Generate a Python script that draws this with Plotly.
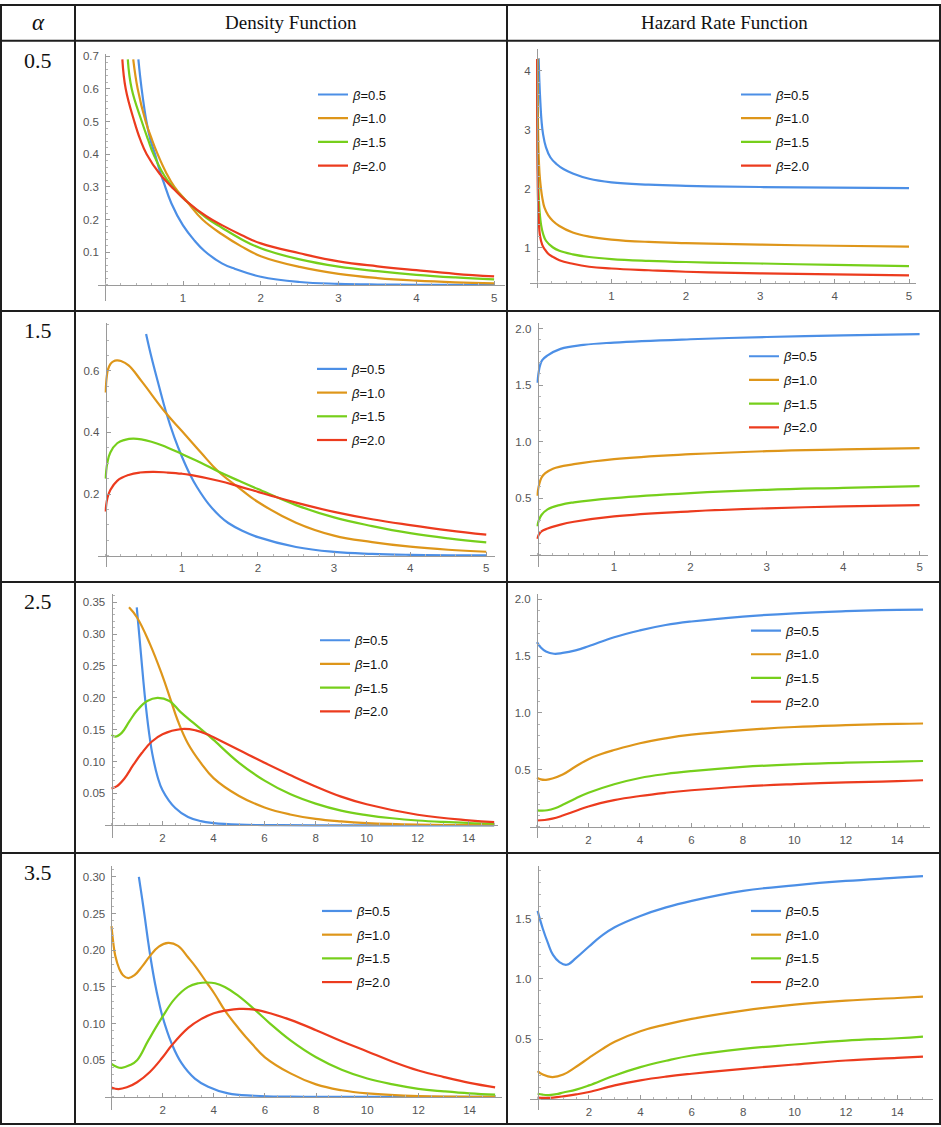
import plotly.graph_objects as go
import numpy as np

W, H = 941, 1127

alpha_values = ["0.5", "1.5", "2.5", "3.5"]
header_labels = ["<i>α</i>", "Density Function", "Hazard Rate Function"]
beta_labels = ["<i>β</i>=0.5", "<i>β</i>=1.0", "<i>β</i>=1.5", "<i>β</i>=2.0"]

# ---------------- alpha = 0.5, density ----------------
den_a05_b05_x = [0.426, 0.468, 0.53, 0.58, 0.64, 0.7, 0.75, 0.85, 1.0, 1.15, 1.28, 1.5, 1.67, 2.0, 2.5, 3.0, 3.5, 4.0, 4.5, 5.0]
den_a05_b05_y = [0.69, 0.6, 0.5, 0.445, 0.4, 0.35, 0.315, 0.25, 0.182, 0.135, 0.103, 0.066, 0.049, 0.025, 0.009, 0.0035, 0.0013, 0.0005, 0.0002, 0.0001]
den_a05_b10_x = [0.36, 0.417, 0.52, 0.6, 0.674, 0.78, 0.89, 1.05, 1.25, 1.5, 1.75, 2.0, 2.5, 3.0, 3.5, 4.0, 4.5, 5.0]
den_a05_b10_y = [0.69, 0.6, 0.5, 0.445, 0.4, 0.345, 0.3, 0.255, 0.2, 0.155, 0.118, 0.088, 0.055, 0.034, 0.021, 0.013, 0.008, 0.005]
den_a05_b15_x = [0.29, 0.34, 0.47, 0.55, 0.62, 0.8, 1.05, 1.3, 1.5, 1.75, 2.0, 2.5, 3.0, 3.5, 4.0, 4.5, 5.0]
den_a05_b15_y = [0.69, 0.6, 0.5, 0.445, 0.4, 0.32, 0.255, 0.205, 0.175, 0.14, 0.112, 0.078, 0.056, 0.042, 0.031, 0.023, 0.017]
den_a05_b20_x = [0.22, 0.263, 0.374, 0.45, 0.533, 0.7, 0.854, 1.05, 1.3, 1.5, 1.75, 2.0, 2.5, 3.0, 3.5, 4.0, 4.5, 5.0]
den_a05_b20_y = [0.69, 0.6, 0.5, 0.445, 0.4, 0.34, 0.3, 0.255, 0.21, 0.183, 0.153, 0.127, 0.097, 0.072, 0.057, 0.045, 0.034, 0.026]

# ---------------- alpha = 0.5, hazard ----------------
haz_a05_b05_x = [0.022, 0.03, 0.045, 0.06, 0.08, 0.12, 0.18, 0.26, 0.36, 0.48, 0.7, 1.0, 1.5, 2.0, 3.0, 4.0, 5.0]
haz_a05_b05_y = [4.2, 3.85, 3.45, 3.15, 2.93, 2.7, 2.53, 2.42, 2.33, 2.26, 2.17, 2.11, 2.07, 2.05, 2.03, 2.02, 2.01]
haz_a05_b10_x = [0.004, 0.008, 0.015, 0.025, 0.04, 0.07, 0.1, 0.15, 0.21, 0.3, 0.48, 0.7, 1.0, 1.5, 2.0, 3.0, 4.0, 5.0]
haz_a05_b10_y = [4.2, 3.5, 2.9, 2.45, 2.15, 1.85, 1.68, 1.55, 1.46, 1.37, 1.26, 1.19, 1.14, 1.1, 1.08, 1.055, 1.035, 1.02]
haz_a05_b15_x = [0.002, 0.005, 0.01, 0.02, 0.035, 0.055, 0.08, 0.12, 0.21, 0.3, 0.48, 0.7, 1.0, 1.5, 2.0, 3.0, 4.0, 5.0]
haz_a05_b15_y = [4.2, 3.2, 2.5, 1.95, 1.6, 1.38, 1.24, 1.12, 1.01, 0.95, 0.89, 0.845, 0.81, 0.78, 0.76, 0.735, 0.71, 0.69]
haz_a05_b20_x = [0.001, 0.003, 0.006, 0.012, 0.022, 0.04, 0.07, 0.1, 0.15, 0.21, 0.3, 0.48, 0.7, 1.0, 1.5, 2.0, 3.0, 4.0, 5.0]
haz_a05_b20_y = [4.2, 3.1, 2.4, 1.85, 1.5, 1.2, 1.05, 0.98, 0.9, 0.85, 0.79, 0.73, 0.68, 0.65, 0.62, 0.595, 0.567, 0.55, 0.533]

# ---------------- alpha = 1.5, density ----------------
den_a15_b05_x = [0.53, 0.6, 0.7, 0.79, 0.9, 1.0, 1.11, 1.2, 1.35, 1.5, 1.61, 1.8, 2.0, 2.5, 3.0, 3.5, 4.0, 5.0]
den_a15_b05_y = [0.72, 0.645, 0.55, 0.468, 0.385, 0.322, 0.262, 0.222, 0.168, 0.128, 0.106, 0.08, 0.06, 0.028, 0.012, 0.0055, 0.0025, 0.0005]
den_a15_b10_x = [0.0, 0.005, 0.015, 0.03, 0.06, 0.1, 0.147, 0.2, 0.3, 0.475, 0.79, 1.0, 1.25, 1.48, 1.75, 2.0, 2.5, 3.0, 3.5, 4.0, 4.5, 5.0]
den_a15_b10_y = [0.53, 0.56, 0.585, 0.605, 0.622, 0.631, 0.634, 0.632, 0.618, 0.565, 0.463, 0.405, 0.335, 0.273, 0.22, 0.174, 0.107, 0.065, 0.044, 0.029, 0.019, 0.0125]
den_a15_b15_x = [0.0, 0.005, 0.02, 0.06, 0.15, 0.25, 0.365, 0.6, 0.8, 1.0, 1.25, 1.48, 1.75, 2.0, 2.5, 3.0, 3.5, 4.0, 4.5, 5.0]
den_a15_b15_y = [0.25, 0.272, 0.3, 0.335, 0.365, 0.376, 0.38, 0.37, 0.352, 0.33, 0.302, 0.273, 0.243, 0.216, 0.164, 0.124, 0.096, 0.073, 0.056, 0.043]
den_a15_b20_x = [0.0, 0.005, 0.02, 0.06, 0.15, 0.3, 0.45, 0.63, 0.8, 1.0, 1.11, 1.48, 1.75, 2.0, 2.18, 2.5, 3.0, 3.5, 4.0, 4.5, 5.0]
den_a15_b20_y = [0.143, 0.162, 0.185, 0.213, 0.243, 0.262, 0.27, 0.272, 0.27, 0.266, 0.262, 0.243, 0.225, 0.207, 0.194, 0.172, 0.142, 0.118, 0.099, 0.082, 0.068]

# ---------------- alpha = 1.5, hazard ----------------
haz_a15_b05_x = [0.0, 0.005, 0.015, 0.03, 0.06, 0.126, 0.3, 0.6, 1.0, 2.0, 3.0, 4.0, 5.0]
haz_a15_b05_y = [1.52, 1.57, 1.62, 1.67, 1.72, 1.76, 1.82, 1.855, 1.876, 1.905, 1.925, 1.94, 1.951]
haz_a15_b10_x = [0.0, 0.005, 0.02, 0.05, 0.1, 0.2, 0.475, 1.0, 2.0, 3.0, 4.0, 5.0]
haz_a15_b10_y = [0.52, 0.57, 0.62, 0.68, 0.72, 0.76, 0.80, 0.845, 0.888, 0.915, 0.93, 0.942]
haz_a15_b15_x = [0.0, 0.005, 0.02, 0.05, 0.13, 0.3, 0.475, 1.0, 2.0, 3.0, 4.0, 5.0]
haz_a15_b15_y = [0.25, 0.28, 0.31, 0.35, 0.40, 0.44, 0.462, 0.5, 0.544, 0.573, 0.59, 0.606]
haz_a15_b20_x = [0.0, 0.005, 0.02, 0.05, 0.13, 0.3, 0.475, 1.0, 2.0, 3.0, 4.0, 5.0]
haz_a15_b20_y = [0.14, 0.16, 0.18, 0.205, 0.23, 0.265, 0.29, 0.338, 0.382, 0.409, 0.426, 0.438]

# ---------------- alpha = 2.5, density ----------------
den_a25_b05_x = [0.99, 1.1, 1.2, 1.3, 1.4, 1.5, 1.6, 1.8, 2.0, 2.5, 3.0, 3.5, 4.0, 5.0, 6.0, 8.0, 10.0, 12.0, 15.0]
den_a25_b05_y = [0.342, 0.293, 0.248, 0.205, 0.168, 0.137, 0.112, 0.077, 0.055, 0.027, 0.013, 0.0065, 0.0035, 0.001, 0.0003, 0.0, 0.0, 0.0, 0.0]
den_a25_b10_x = [0.686, 1.0, 1.5, 2.0, 2.3, 2.6, 3.0, 3.5, 4.0, 5.0, 6.0, 7.0, 8.0, 9.0, 10.0, 12.0, 15.0]
den_a25_b10_y = [0.342, 0.326, 0.285, 0.234, 0.199, 0.164, 0.128, 0.098, 0.074, 0.046, 0.028, 0.017, 0.01, 0.006, 0.0035, 0.0012, 0.0002]
den_a25_b15_x = [0.0, 0.15, 0.4, 0.7, 1.0, 1.4, 1.8, 2.27, 2.7, 3.2, 3.8, 4.0, 5.0, 6.0, 7.0, 8.0, 9.0, 10.0, 11.0, 12.0, 13.0, 14.0, 15.0]
den_a25_b15_y = [0.142, 0.139, 0.145, 0.163, 0.18, 0.195, 0.2, 0.195, 0.178, 0.161, 0.141, 0.134, 0.098, 0.07, 0.049, 0.034, 0.023, 0.016, 0.011, 0.0075, 0.0052, 0.0036, 0.0025]
den_a25_b20_x = [0.0, 0.2, 0.5, 0.86, 1.18, 1.57, 2.0, 2.75, 3.3, 3.8, 4.0, 5.0, 6.0, 7.0, 8.0, 9.0, 10.0, 12.0, 14.0, 15.0]
den_a25_b20_y = [0.058, 0.061, 0.073, 0.095, 0.113, 0.131, 0.143, 0.151, 0.149, 0.142, 0.138, 0.118, 0.098, 0.079, 0.061, 0.045, 0.033, 0.0165, 0.0077, 0.005]

# ---------------- alpha = 2.5, hazard ----------------
haz_a25_b05_x = [0.0, 0.15, 0.35, 0.66, 1.0, 1.5, 2.0, 3.0, 4.0, 5.0, 6.0, 8.0, 10.0, 12.0, 14.0, 15.0]
haz_a25_b05_y = [1.622, 1.575, 1.54, 1.52, 1.527, 1.55, 1.585, 1.665, 1.725, 1.772, 1.803, 1.846, 1.875, 1.893, 1.905, 1.907]
haz_a25_b10_x = [0.0, 0.15, 0.35, 0.6, 1.0, 1.5, 2.0, 2.5, 3.0, 4.0, 5.0, 6.0, 8.0, 10.0, 12.0, 14.0, 15.0]
haz_a25_b10_y = [0.433, 0.418, 0.414, 0.425, 0.46, 0.53, 0.595, 0.64, 0.675, 0.735, 0.778, 0.81, 0.85, 0.877, 0.893, 0.905, 0.908]
haz_a25_b15_x = [0.0, 0.2, 0.4, 0.7, 1.0, 1.5, 2.0, 3.0, 4.0, 5.0, 6.0, 8.0, 10.0, 12.0, 14.0, 15.0]
haz_a25_b15_y = [0.145, 0.143, 0.147, 0.165, 0.194, 0.25, 0.3, 0.375, 0.43, 0.465, 0.49, 0.527, 0.55, 0.564, 0.573, 0.579]
haz_a25_b20_x = [0.0, 0.3, 0.6, 1.0, 1.5, 2.0, 3.0, 4.0, 5.0, 6.0, 8.0, 10.0, 12.0, 14.0, 15.0]
haz_a25_b20_y = [0.057, 0.061, 0.073, 0.1, 0.14, 0.18, 0.235, 0.272, 0.3, 0.322, 0.355, 0.376, 0.391, 0.402, 0.41]

# ---------------- alpha = 3.5, density ----------------
den_a35_b05_x = [1.07, 1.2, 1.31, 1.42, 1.54, 1.7, 1.85, 1.99, 2.35, 2.74, 3.26, 3.78, 4.56, 5.6, 7.0, 9.0, 12.0, 15.0]
den_a35_b05_y = [0.3, 0.27, 0.243, 0.215, 0.187, 0.155, 0.13, 0.11, 0.073, 0.046, 0.025, 0.0138, 0.0047, 0.0015, 0.0003, 0.0, 0.0, 0.0]
den_a35_b10_x = [0.0, 0.07, 0.15, 0.3, 0.45, 0.66, 0.9, 1.2, 1.5, 1.85, 2.22, 2.6, 3.0, 3.3, 3.72, 4.04, 4.43, 4.98, 5.5, 6.0, 7.0, 8.0, 9.0, 10.0, 12.0, 15.0]
den_a35_b10_y = [0.233, 0.21, 0.192, 0.175, 0.166, 0.162, 0.166, 0.178, 0.192, 0.205, 0.21, 0.206, 0.19, 0.177, 0.156, 0.14, 0.118, 0.093, 0.072, 0.054, 0.032, 0.017, 0.009, 0.0047, 0.001, 0.0002]
den_a35_b15_x = [0.0, 0.2, 0.4, 0.7, 1.0, 1.44, 1.99, 2.48, 3.0, 3.4, 3.72, 4.05, 4.43, 4.95, 5.6, 6.2, 7.0, 8.0, 9.0, 10.0, 11.0, 12.0, 13.0, 14.0, 15.0]
den_a35_b15_y = [0.045, 0.041, 0.0396, 0.043, 0.05, 0.077, 0.109, 0.134, 0.15, 0.155, 0.156, 0.155, 0.15, 0.138, 0.119, 0.1, 0.077, 0.054, 0.037, 0.025, 0.017, 0.011, 0.0075, 0.0047, 0.003]
den_a35_b20_x = [0.0, 0.27, 0.6, 1.0, 1.5, 2.0, 2.35, 3.0, 3.5, 4.0, 4.5, 5.0, 5.6, 6.3, 7.0, 8.0, 9.0, 10.0, 11.0, 12.0, 13.0, 14.0, 15.0]
den_a35_b20_y = [0.0128, 0.0106, 0.013, 0.02, 0.034, 0.054, 0.07, 0.094, 0.106, 0.114, 0.118, 0.12, 0.119, 0.113, 0.105, 0.091, 0.076, 0.062, 0.048, 0.036, 0.027, 0.019, 0.013]

# ---------------- alpha = 3.5, hazard ----------------
haz_a35_b05_x = [0.0, 0.2, 0.4, 0.6, 0.85, 1.13, 1.5, 2.0, 2.5, 3.0, 4.0, 5.0, 6.0, 8.0, 10.0, 12.0, 14.0, 15.0]
haz_a35_b05_y = [1.566, 1.42, 1.3, 1.2, 1.14, 1.118, 1.175, 1.27, 1.36, 1.43, 1.524, 1.595, 1.649, 1.732, 1.779, 1.815, 1.842, 1.856]
haz_a35_b10_x = [0.0, 0.2, 0.57, 1.0, 1.5, 2.0, 2.5, 3.0, 4.0, 5.0, 6.0, 8.0, 10.0, 12.0, 14.0, 15.0]
haz_a35_b10_y = [0.234, 0.205, 0.184, 0.205, 0.27, 0.344, 0.415, 0.478, 0.566, 0.622, 0.668, 0.737, 0.787, 0.82, 0.842, 0.853]
haz_a35_b15_x = [0.0, 0.2, 0.44, 0.8, 1.0, 1.5, 2.0, 3.0, 4.0, 5.0, 6.0, 8.0, 10.0, 12.0, 14.0, 15.0]
haz_a35_b15_y = [0.046, 0.038, 0.035, 0.045, 0.056, 0.08, 0.115, 0.198, 0.267, 0.32, 0.364, 0.419, 0.455, 0.488, 0.507, 0.521]
haz_a35_b20_x = [0.0, 0.3, 0.6, 1.0, 1.5, 2.0, 3.0, 4.0, 5.0, 6.0, 8.0, 10.0, 12.0, 14.0, 15.0]
haz_a35_b20_y = [0.013, 0.011, 0.014, 0.024, 0.04, 0.06, 0.115, 0.157, 0.188, 0.212, 0.253, 0.289, 0.322, 0.344, 0.355]

# tick labels
ticks_x5 = [1, 2, 3, 4, 5]
ticks_x15 = [2, 4, 6, 8, 10, 12, 14]
ticks_den05 = [0.1, 0.2, 0.3, 0.4, 0.5, 0.6, 0.7]
ticks_haz05 = [1, 2, 3, 4]
ticks_den15 = [0.2, 0.4, 0.6]
ticks_haz15 = [0.5, 1.0, 1.5, 2.0]
ticks_den25 = [0.05, 0.10, 0.15, 0.20, 0.25, 0.30, 0.35]
ticks_haz25 = [0.5, 1.0, 1.5, 2.0]
ticks_den35 = [0.05, 0.10, 0.15, 0.20, 0.25, 0.30]
ticks_haz35 = [0.5, 1.0, 1.5]

# ---------------- styling / layout ----------------
colors = ["#4C8FE6", "#DE961A", "#76CF1B", "#EC3B1E"]
AX = "#9a9a9a"
TICKFONT = dict(family="Liberation Sans, Arial, sans-serif", size=11.5, color="#555555")

panels = [
    dict(data=[(den_a05_b05_x, den_a05_b05_y), (den_a05_b10_x, den_a05_b10_y), (den_a05_b15_x, den_a05_b15_y), (den_a05_b20_x, den_a05_b20_y)],
         box=(98, 505, 50, 298), xr=[-0.093, 5.14], yr=[-0.049, 0.707], yorig=0.0,
         xt=ticks_x5, xfmt="{:g}", xminor=0.2, yt=ticks_den05, yfmt="{:.1f}", yminor=0.02, leg=(353, 94.3)),
    dict(data=[(haz_a05_b05_x, haz_a05_b05_y), (haz_a05_b10_x, haz_a05_b10_y), (haz_a05_b15_x, haz_a05_b15_y), (haz_a05_b20_x, haz_a05_b20_y)],
         box=(530, 916, 45, 285), xr=[-0.095, 5.094], yr=[0.32, 4.37], yorig=0.4,
         xt=ticks_x5, xfmt="{:g}", xminor=0.2, yt=ticks_haz05, yfmt="{:g}", yminor=0.2, leg=(776, 94.3)),
    dict(data=[(den_a15_b05_x, den_a15_b05_y), (den_a15_b10_x, den_a15_b10_y), (den_a15_b15_x, den_a15_b15_y), (den_a15_b20_x, den_a15_b20_y)],
         box=(98, 495, 320, 565), xr=[-0.102, 5.115], yr=[-0.037, 0.756], yorig=0.0,
         xt=ticks_x5, xfmt="{:g}", xminor=0.2, yt=ticks_den15, yfmt="{:.1f}", yminor=0.05, leg=(352, 369.7)),
    dict(data=[(haz_a15_b05_x, haz_a15_b05_y), (haz_a15_b10_x, haz_a15_b10_y), (haz_a15_b15_x, haz_a15_b15_y), (haz_a15_b20_x, haz_a15_b20_y)],
         box=(530, 928, 320, 565), xr=[-0.10, 5.11], yr=[-0.11, 2.05], yorig=0.0,
         xt=ticks_x5, xfmt="{:g}", xminor=0.2, yt=ticks_haz15, yfmt="{:.1f}", yminor=0.1, leg=(784, 357)),
    dict(data=[(den_a25_b05_x, den_a25_b05_y), (den_a25_b10_x, den_a25_b10_y), (den_a25_b15_x, den_a25_b15_y), (den_a25_b20_x, den_a25_b20_y)],
         box=(105, 498, 592, 837), xr=[-0.255, 15.15], yr=[-0.02, 0.363], yorig=0.0,
         xt=ticks_x15, xfmt="{:g}", xminor=0.5, yt=ticks_den25, yfmt="{:.2f}", yminor=0.01, leg=(355, 642)),
    dict(data=[(haz_a25_b05_x, haz_a25_b05_y), (haz_a25_b10_x, haz_a25_b10_y), (haz_a25_b15_x, haz_a25_b15_y), (haz_a25_b20_x, haz_a25_b20_y)],
         box=(530, 930, 592, 837), xr=[-0.27, 15.27], yr=[-0.097, 2.045], yorig=0.0,
         xt=ticks_x15, xfmt="{:g}", xminor=0.5, yt=ticks_haz25, yfmt="{:.1f}", yminor=0.1, leg=(786, 632.3)),
    dict(data=[(den_a35_b05_x, den_a35_b05_y), (den_a35_b10_x, den_a35_b10_y), (den_a35_b15_x, den_a35_b15_y), (den_a35_b20_x, den_a35_b20_y)],
         box=(105, 502, 865, 1110), xr=[-0.254, 15.27], yr=[-0.018, 0.315], yorig=0.0,
         xt=ticks_x15, xfmt="{:g}", xminor=0.5, yt=ticks_den35, yfmt="{:.2f}", yminor=0.01, leg=(357, 913.7)),
    dict(data=[(haz_a35_b05_x, haz_a35_b05_y), (haz_a35_b10_x, haz_a35_b10_y), (haz_a35_b15_x, haz_a35_b15_y), (haz_a35_b20_x, haz_a35_b20_y)],
         box=(530, 933, 865, 1110), xr=[-0.296, 15.39], yr=[-0.09, 1.94], yorig=0.0,
         xt=ticks_x15, xfmt="{:g}", xminor=0.5, yt=ticks_haz35, yfmt="{:.1f}", yminor=0.1, leg=(786, 913.7)),
]


def minor_vals(start, stop, step):
    n = int(np.floor((stop - start) / step + 1e-9))
    return [round(start + k * step, 6) for k in range(n + 1)]


fig = go.Figure()
layout = dict(
    width=W, height=H, margin=dict(l=0, r=0, t=0, b=0),
    paper_bgcolor="white", plot_bgcolor="white", showlegend=True,
)

for i, p in enumerate(panels):
    n = i + 1
    sfx = "" if n == 1 else str(n)
    legname = "legend" if n == 1 else f"legend{n}"
    for j, (xs, ys) in enumerate(p["data"]):
        fig.add_trace(go.Scatter(
            x=xs, y=ys, mode="lines", name=beta_labels[j],
            line=dict(color=colors[j], width=2.2, shape="spline", smoothing=1.2),
            xaxis=f"x{sfx}", yaxis=f"y{sfx}", legend=legname, legendgroup=f"p{n}b{j}",
            hoverinfo="skip",
        ))
    l, r, t, b = p["box"]
    x0d, x1d = l / W, r / W
    y0d, y1d = 1 - b / H, 1 - t / H
    xr, yr = p["xr"], p["yr"]
    ypos = y0d + (p["yorig"] - yr[0]) / (yr[1] - yr[0]) * (y1d - y0d)
    xpos = x0d + (0 - xr[0]) / (xr[1] - xr[0]) * (x1d - x0d)
    layout[f"xaxis{sfx}"] = dict(
        domain=[x0d, x1d], range=xr, anchor="free", position=ypos,
        showline=True, linecolor=AX, linewidth=1, showgrid=False, zeroline=False,
        ticks="inside", ticklen=4, tickcolor=AX, tickwidth=1,
        tickmode="array", tickvals=p["xt"], ticktext=[p["xfmt"].format(v) for v in p["xt"]],
        tickfont=TICKFONT, ticklabelstandoff=2,
        minor=dict(tickmode="array", tickvals=minor_vals(0, xr[1], p["xminor"]),
                   ticks="inside", ticklen=2, tickcolor="#b5b5b5", showgrid=False),
        fixedrange=True,
    )
    layout[f"yaxis{sfx}"] = dict(
        domain=[y0d, y1d], range=yr, anchor="free", position=xpos,
        showline=True, linecolor=AX, linewidth=1, showgrid=False, zeroline=False,
        ticks="inside", ticklen=4, tickcolor=AX, tickwidth=1,
        tickmode="array", tickvals=p["yt"], ticktext=[p["yfmt"].format(v) for v in p["yt"]],
        tickfont=TICKFONT, ticklabelstandoff=4,
        minor=dict(tickmode="array", tickvals=minor_vals(p["yorig"], yr[1], p["yminor"]),
                   ticks="inside", ticklen=2, tickcolor="#b5b5b5", showgrid=False),
        fixedrange=True,
    )
    tx, ty = p["leg"]
    layout[legname] = dict(
        x=(tx - 40) / W, y=1 - (ty - 18.5) / H, xanchor="left", yanchor="top",
        bgcolor="rgba(0,0,0,0)", borderwidth=0, tracegroupgap=3.8,
        font=dict(family="Liberation Sans, Arial, sans-serif", size=13, color="#111111"),
        itemwidth=30,
    )

# table grid
shapes = []
LC = "#1e1e1e"
for yy in [1, 37, 308, 580, 852, 1124]:
    shapes.append(dict(type="line", xref="paper", yref="paper", x0=0, x1=1, y0=1 - yy / H, y1=1 - yy / H,
                       line=dict(color=LC, width=2)))
for xx in [1, 75, 507, 940]:
    shapes.append(dict(type="line", xref="paper", yref="paper", x0=xx / W, x1=xx / W, y0=1 - 1124 / H, y1=1 - 1 / H,
                       line=dict(color=LC, width=2)))
layout["shapes"] = shapes

SERIF = "Liberation Serif, Times New Roman, serif"
ann = []
for txt, cx, fs in zip(header_labels, [38, 291, 724], [23, 19, 19]):
    ann.append(dict(text=txt, x=cx / W, y=1 - 19 / H, xref="paper", yref="paper", showarrow=False,
                    xanchor="center", yanchor="middle", font=dict(family=SERIF, size=fs, color="#111111")))
for txt, top in zip(alpha_values, [37, 308, 580, 852]):
    ann.append(dict(text=txt, x=38 / W, y=1 - (top + 20) / H, xref="paper", yref="paper", showarrow=False,
                    xanchor="center", yanchor="middle", font=dict(family=SERIF, size=22, color="#111111")))
layout["annotations"] = ann

fig.update_layout(**layout)
fig.write_html("out.html")
